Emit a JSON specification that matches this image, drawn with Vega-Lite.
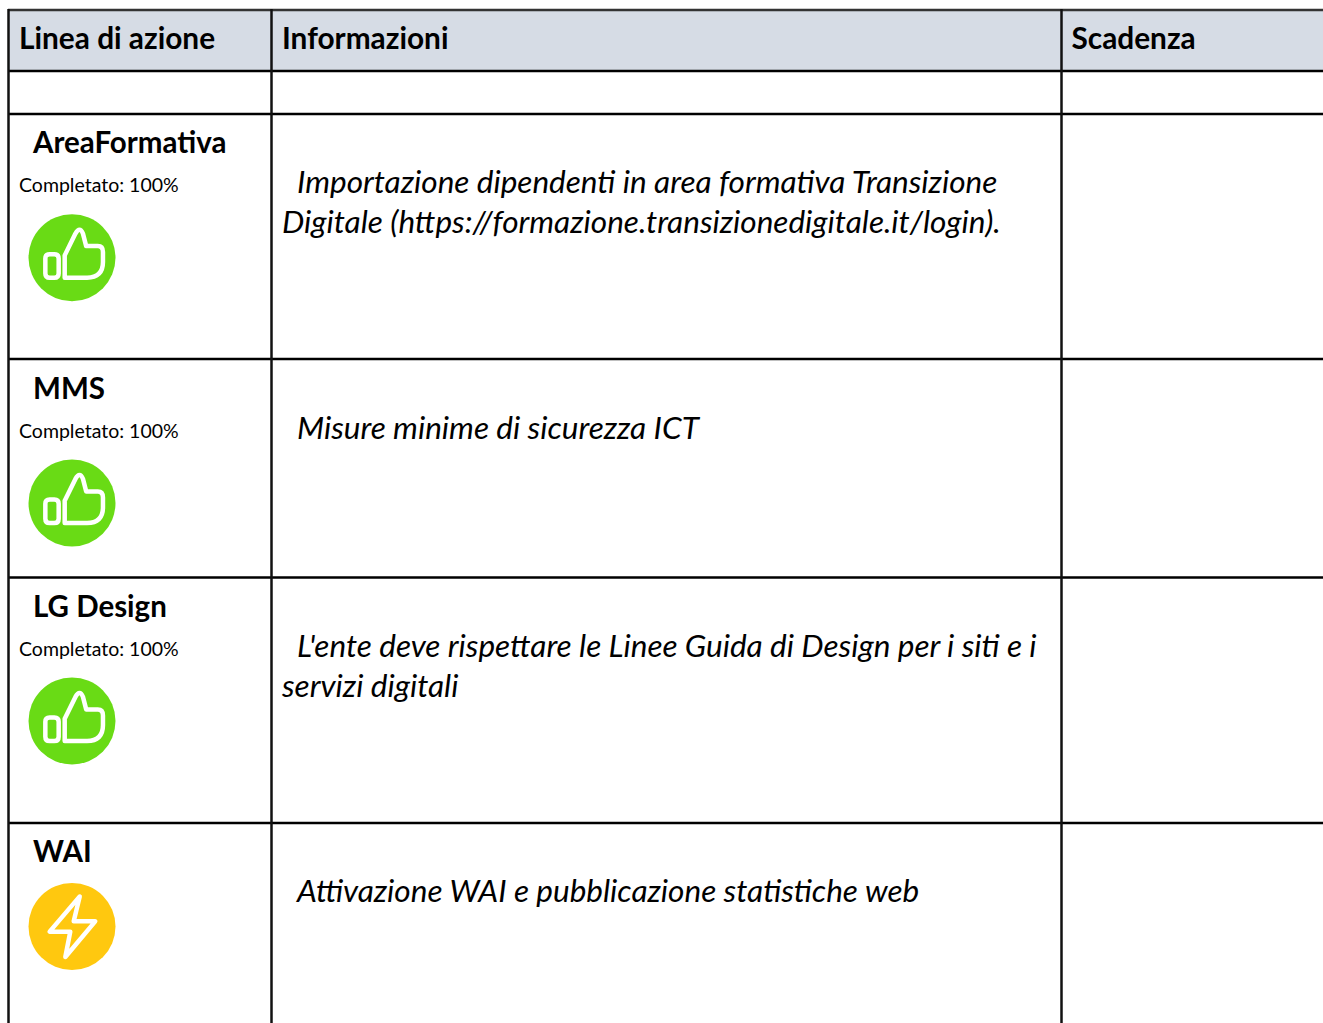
{
"$schema":"https://vega.github.io/schema/vega-lite/v6.json",
"width":1323,"height":1023,"padding":0,
"autosize":{"type":"none"},
"background":"white",
"config":{"view":{"stroke":null}},
"datasets":{
"header":[{"a":9,"b":1326,"t":10,"u":71}],
"hlines":[{"a":8,"b":1326,"y":71},{"a":8,"b":1326,"y":114},{"a":8,"b":1326,"y":359},{"a":8,"b":1326,"y":577.5},{"a":8,"b":1326,"y":823}],
"top":[{"a":8,"b":1326,"y":10}],
"vlines":[{"x":8.5,"t":9,"u":1026},{"x":271.5,"t":9,"u":1026},{"x":1061.5,"t":9,"u":1026}],
"heads":[{"x":19,"y":48.5,"label":"Linea di azione"},{"x":282,"y":48.5,"label":"Informazioni"},{"x":1071.5,"y":48.5,"label":"Scadenza"}],
"titles":[{"x":33,"y":152.5,"label":"AreaFormativa"},{"x":33,"y":398.5,"label":"MMS"},{"x":33,"y":616.5,"label":"LG Design"},{"x":33,"y":861.5,"label":"WAI"}],
"small":[{"x":19,"y":192,"label":"Completato: 100%"},{"x":19,"y":438,"label":"Completato: 100%"},{"x":19,"y":656,"label":"Completato: 100%"}],
"info":[{"x":297,"y":192.5,"label":"Importazione dipendenti in area formativa Transizione"},{"x":282,"y":232.5,"label":"Digitale (https://formazione.transizionedigitale.it/login)."},{"x":297,"y":438.5,"label":"Misure minime di sicurezza ICT"},{"x":297,"y":656.5,"label":"L'ente deve rispettare le Linee Guida di Design per i siti e i"},{"x":282,"y":696.5,"label":"servizi digitali"},{"x":297,"y":901.5,"label":"Attivazione WAI e pubblicazione statistiche web"}],
"done":[{"x":72,"y":257.7},{"x":72,"y":503},{"x":72,"y":721}],
"wip":[{"x":72,"y":926.5}]
},
"layer":[
{"data":{"name":"header"},"mark":{"type":"rect","color":"#d6dce5"},"encoding":{
"x":{"field":"a","type":"quantitative","scale":{"domain":[0,1323],"nice":false,"zero":false},"axis":null},
"x2":{"field":"b"},
"y":{"field":"t","type":"quantitative","scale":{"domain":[1023,0],"nice":false,"zero":false},"axis":null},
"y2":{"field":"u"}}},
{"data":{"name":"top"},"mark":{"type":"rule","color":"#333333","strokeWidth":2.5},"encoding":{"x":{"field":"a","type":"quantitative"},"x2":{"field":"b"},"y":{"field":"y","type":"quantitative"}}},
{"data":{"name":"hlines"},"mark":{"type":"rule","color":"#000000","strokeWidth":2.5},"encoding":{"x":{"field":"a","type":"quantitative"},"x2":{"field":"b"},"y":{"field":"y","type":"quantitative"}}},
{"data":{"name":"vlines"},"mark":{"type":"rule","color":"#111111","strokeWidth":2.5},"encoding":{"x":{"field":"x","type":"quantitative"},"y":{"field":"t","type":"quantitative"},"y2":{"field":"u"}}},
{"data":{"name":"heads"},"mark":{"type":"text","align":"left","baseline":"alphabetic","font":"Lato","fontWeight":"bold","fontSize":29.8,"color":"#000000"},"encoding":{"x":{"field":"x","type":"quantitative"},"y":{"field":"y","type":"quantitative"},"text":{"field":"label"}}},
{"data":{"name":"titles"},"mark":{"type":"text","align":"left","baseline":"alphabetic","font":"Lato","fontWeight":"bold","fontSize":29.5,"color":"#000000"},"encoding":{"x":{"field":"x","type":"quantitative"},"y":{"field":"y","type":"quantitative"},"text":{"field":"label"}}},
{"data":{"name":"small"},"mark":{"type":"text","align":"left","baseline":"alphabetic","font":"Lato","fontSize":19.5,"color":"#000000"},"encoding":{"x":{"field":"x","type":"quantitative"},"y":{"field":"y","type":"quantitative"},"text":{"field":"label"}}},
{"data":{"name":"info"},"mark":{"type":"text","align":"left","baseline":"alphabetic","font":"Lato","fontStyle":"italic","fontSize":31.5,"color":"#000000"},"encoding":{"x":{"field":"x","type":"quantitative"},"y":{"field":"y","type":"quantitative"},"text":{"field":"label"}}},
{"data":{"name":"done"},"mark":{"type":"point","shape":"circle","filled":true,"size":7569,"color":"#69db15","opacity":1},"encoding":{"x":{"field":"x","type":"quantitative"},"y":{"field":"y","type":"quantitative"}}},
{"data":{"name":"wip"},"mark":{"type":"point","shape":"circle","filled":true,"size":7569,"color":"#ffc80f","opacity":1},"encoding":{"x":{"field":"x","type":"quantitative"},"y":{"field":"y","type":"quantitative"}}},
{"data":{"name":"done"},"mark":{"type":"point","filled":false,"size":7396,"stroke":"#ffffff","strokeWidth":4.5,"opacity":1,"strokeJoin":"round","shape":"M-0.62,0.02Q-0.62,-0.08,-0.52,-0.08L-0.41,-0.08Q-0.31,-0.08,-0.31,0.02L-0.31,0.365Q-0.31,0.465,-0.41,0.465L-0.52,0.465Q-0.62,0.465,-0.62,0.365ZM-0.17,-0.054L-0.17,0.465L0.35,0.465Q0.72,0.465,0.72,0.10L0.72,-0.13Q0.72,-0.27,0.60,-0.27L0.33,-0.27L0.255,-0.56Q0.18,-0.74,0.08,-0.56Z"},"encoding":{"x":{"field":"x","type":"quantitative"},"y":{"field":"y","type":"quantitative"}}},
{"data":{"name":"wip"},"mark":{"type":"point","filled":false,"size":7396,"stroke":"#ffffff","strokeWidth":4.5,"opacity":1,"strokeJoin":"round","shape":"M0.18,-0.70L-0.52,0.12L-0.04,0.12L-0.155,0.71L0.54,-0.12L0.04,-0.12Z"},"encoding":{"x":{"field":"x","type":"quantitative"},"y":{"field":"y","type":"quantitative"}}}
]
}
